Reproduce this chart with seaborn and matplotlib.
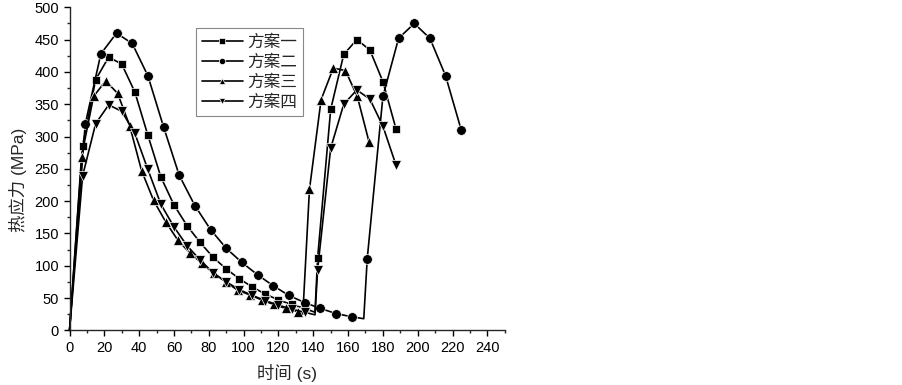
import matplotlib
matplotlib.use("Agg")
import matplotlib.pyplot as plt
from matplotlib.ticker import MultipleLocator
import seaborn as sns
import pandas as pd

# time (s) and thermal stress (MPa)
t_1 = [0, 7.5, 15, 22.5, 30, 37.5, 45, 52.5, 60, 67.5, 75, 82.5, 90, 97.5, 105, 112.5,
       120, 127.5, 135, 141, 142.5, 150, 157.5, 165, 172.5, 180, 187.5]
s_1 = [0, 286, 388, 423, 412, 369, 302, 237, 194, 162, 136, 113, 95, 80, 67, 56,
       47, 40, 34, 28, 112, 342, 427, 450, 434, 385, 312]

t_2 = [0, 9, 18, 27, 36, 45, 54, 63, 72, 81, 90, 99, 108, 117, 126, 135, 144, 153,
       162, 169, 171, 180, 189, 198, 207, 216, 225]
s_2 = [0, 319, 428, 460, 444, 394, 315, 240, 193, 156, 127, 105, 86, 69, 54, 43, 34, 26,
       21, 18, 111, 362, 452, 475, 452, 394, 310]

t_3 = [0, 6.9, 13.8, 20.7, 27.6, 34.5, 41.4, 48.3, 55.2, 62.1, 69, 75.9, 82.8, 89.7,
       96.6, 103.5, 110.4, 117.3, 124.2, 131.1, 134, 137.8, 144.5, 151.5, 158.5, 165.3, 172]
s_3 = [0, 269, 362, 386, 367, 317, 247, 201, 168, 140, 120, 104, 88, 75,
       62, 55, 47, 40, 34, 29, 25, 218, 357, 406, 402, 362, 292]

t_4 = [0, 7.5, 15, 22.5, 30, 37.5, 45, 52.5, 60, 67.5, 75, 82.5, 90, 97.5, 105, 112.5,
       120, 127.5, 135, 141, 142.5, 150, 157.5, 165, 172.5, 180, 187.5]
s_4 = [0, 239, 320, 349, 339, 305, 249, 195, 160, 131, 109, 89, 75, 63, 54, 46,
       39, 33, 28, 24, 94, 282, 350, 372, 358, 316, 256]

names = ["方案一", "方案二", "方案三", "方案四"]
# points with no marker drawn: the start and the bottom before the jump
no_marker = [(0, 19), (0, 19), (0, 20), (0, 19)]

sns.set_theme(style="ticks")
plt.rcParams['font.family'] = ['Liberation Sans', 'Noto Sans CJK SC']
plt.rcParams['axes.linewidth'] = 1.0

fig = plt.figure(figsize=(9.03, 3.85), dpi=100)
ax = fig.add_axes([0.077, 0.142, 0.482, 0.839])

series = [(t_1, s_1, "s", 6.3), (t_2, s_2, "o", 7), (t_3, s_3, "^", 7.5), (t_4, s_4, "v", 7.5)]
for (t, s, m, ms), name, skip in zip(series, names, no_marker):
    df = pd.DataFrame({"t": t, "s": s})
    every = [i for i in range(len(t)) if i not in skip]
    sns.lineplot(data=df, x="t", y="s", ax=ax, color="black", lw=1.2,
                 marker=m, markersize=ms, markeredgewidth=0.5, markevery=every,
                 label=name, sort=False, clip_on=False)

ax.set_xlim(0, 250)
ax.set_ylim(0, 500)
ax.set_xticks(list(range(0, 241, 20)))
ax.xaxis.set_minor_locator(MultipleLocator(10))
ax.yaxis.set_major_locator(MultipleLocator(50))
ax.yaxis.set_minor_locator(MultipleLocator(25))
ax.tick_params(which="major", direction="out", length=4, width=1, labelsize=10.5, colors="black")
ax.tick_params(which="minor", direction="out", length=2.5, width=1)
sns.despine(ax=ax)

ax.set_xlabel("时间 (s)", fontsize=12.5)
ax.set_ylabel("热应力 (MPa)", fontsize=12.5)
ax.xaxis.set_label_coords(0.5, -0.105)
ax.yaxis.set_label_coords(-0.098, 0.465)

leg = ax.legend(loc="upper left", bbox_to_anchor=(0.29, 0.935), fontsize=12,
                handlelength=2.5, labelspacing=0.28, borderpad=0.35, handletextpad=0.25,
                borderaxespad=0, markerscale=0.65, fancybox=False, framealpha=1)
leg.get_frame().set_edgecolor("#888888")
leg.get_frame().set_linewidth(0.8)

fig.savefig("out.png", dpi=100)
